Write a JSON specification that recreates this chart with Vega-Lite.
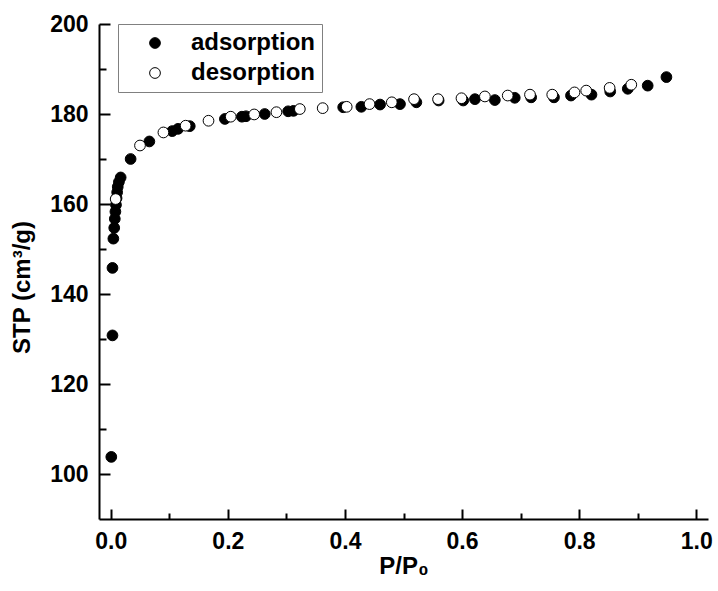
{
  "$schema": "https://vega.github.io/schema/vega-lite/v6.json",
  "autosize": "none",
  "padding": {"left": 99, "top": 24, "right": 10, "bottom": 72},
  "width": 609,
  "height": 495,
  "background": "white",
  "config": {"view": {"stroke": null}, "font": "Liberation Sans"},
  "data": {"values": [
    {"p": 0.001, "v": 103.8, "s": "adsorption"},
    {"p": 0.003, "v": 130.8, "s": "adsorption"},
    {"p": 0.003, "v": 145.8, "s": "adsorption"},
    {"p": 0.0045, "v": 152.3, "s": "adsorption"},
    {"p": 0.006, "v": 154.7, "s": "adsorption"},
    {"p": 0.007, "v": 156.7, "s": "adsorption"},
    {"p": 0.008, "v": 158.3, "s": "adsorption"},
    {"p": 0.009, "v": 159.8, "s": "adsorption"},
    {"p": 0.010, "v": 161.3, "s": "adsorption"},
    {"p": 0.011, "v": 162.6, "s": "adsorption"},
    {"p": 0.012, "v": 163.8, "s": "adsorption"},
    {"p": 0.014, "v": 164.9, "s": "adsorption"},
    {"p": 0.017, "v": 165.9, "s": "adsorption"},
    {"p": 0.034, "v": 170.0, "s": "adsorption"},
    {"p": 0.066, "v": 173.9, "s": "adsorption"},
    {"p": 0.105, "v": 176.2, "s": "adsorption"},
    {"p": 0.115, "v": 176.7, "s": "adsorption"},
    {"p": 0.135, "v": 177.3, "s": "adsorption"},
    {"p": 0.195, "v": 178.9, "s": "adsorption"},
    {"p": 0.224, "v": 179.4, "s": "adsorption"},
    {"p": 0.231, "v": 179.5, "s": "adsorption"},
    {"p": 0.263, "v": 180.0, "s": "adsorption"},
    {"p": 0.303, "v": 180.6, "s": "adsorption"},
    {"p": 0.312, "v": 180.7, "s": "adsorption"},
    {"p": 0.397, "v": 181.5, "s": "adsorption"},
    {"p": 0.428, "v": 181.6, "s": "adsorption"},
    {"p": 0.46, "v": 182.1, "s": "adsorption"},
    {"p": 0.494, "v": 182.2, "s": "adsorption"},
    {"p": 0.522, "v": 182.6, "s": "adsorption"},
    {"p": 0.56, "v": 183.0, "s": "adsorption"},
    {"p": 0.602, "v": 183.0, "s": "adsorption"},
    {"p": 0.622, "v": 183.3, "s": "adsorption"},
    {"p": 0.656, "v": 183.1, "s": "adsorption"},
    {"p": 0.69, "v": 183.6, "s": "adsorption"},
    {"p": 0.718, "v": 183.7, "s": "adsorption"},
    {"p": 0.757, "v": 183.7, "s": "adsorption"},
    {"p": 0.786, "v": 184.1, "s": "adsorption"},
    {"p": 0.821, "v": 184.3, "s": "adsorption"},
    {"p": 0.853, "v": 185.0, "s": "adsorption"},
    {"p": 0.883, "v": 185.6, "s": "adsorption"},
    {"p": 0.917, "v": 186.3, "s": "adsorption"},
    {"p": 0.949, "v": 188.2, "s": "adsorption"},
    {"p": 0.0085, "v": 161.1, "s": "desorption"},
    {"p": 0.050, "v": 173.0, "s": "desorption"},
    {"p": 0.090, "v": 175.9, "s": "desorption"},
    {"p": 0.128, "v": 177.4, "s": "desorption"},
    {"p": 0.167, "v": 178.5, "s": "desorption"},
    {"p": 0.205, "v": 179.4, "s": "desorption"},
    {"p": 0.245, "v": 179.9, "s": "desorption"},
    {"p": 0.283, "v": 180.4, "s": "desorption"},
    {"p": 0.323, "v": 181.1, "s": "desorption"},
    {"p": 0.362, "v": 181.3, "s": "desorption"},
    {"p": 0.403, "v": 181.6, "s": "desorption"},
    {"p": 0.442, "v": 182.2, "s": "desorption"},
    {"p": 0.48, "v": 182.6, "s": "desorption"},
    {"p": 0.518, "v": 183.3, "s": "desorption"},
    {"p": 0.559, "v": 183.3, "s": "desorption"},
    {"p": 0.599, "v": 183.5, "s": "desorption"},
    {"p": 0.639, "v": 183.9, "s": "desorption"},
    {"p": 0.678, "v": 184.1, "s": "desorption"},
    {"p": 0.716, "v": 184.3, "s": "desorption"},
    {"p": 0.754, "v": 184.3, "s": "desorption"},
    {"p": 0.792, "v": 184.8, "s": "desorption"},
    {"p": 0.812, "v": 185.2, "s": "desorption"},
    {"p": 0.852, "v": 185.8, "s": "desorption"},
    {"p": 0.889, "v": 186.5, "s": "desorption"}
  ]},
  "layer": [
    {
      "mark": {"type": "circle", "opacity": 0},
      "encoding": {
        "x": {"field": "p", "type": "quantitative", "scale": {"domain": [-0.02, 1.02], "nice": false, "zero": false},
          "axis": {"orient": "bottom", "values": [0.1, 0.3, 0.5, 0.7, 0.9], "labels": false, "domain": false, "grid": false, "title": null,
            "tickSize": -6, "tickWidth": 2, "tickColor": "black"}},
        "y": {"field": "v", "type": "quantitative", "scale": {"domain": [90, 200], "nice": false, "zero": false},
          "axis": {"orient": "left", "values": [110, 130, 150, 170, 190], "labels": false, "domain": false, "grid": false, "title": null,
            "tickSize": -7, "tickWidth": 2, "tickColor": "black"}}
      }
    },
    {
      "mark": {"type": "circle", "size": 115, "stroke": "black", "strokeWidth": 1, "opacity": 1},
      "encoding": {
        "x": {"field": "p", "type": "quantitative", "scale": {"domain": [-0.02, 1.02], "nice": false, "zero": false},
          "axis": {"orient": "bottom", "values": [0, 0.2, 0.4, 0.6, 0.8, 1.0], "format": ".1f", "grid": false,
            "tickSize": -10, "tickWidth": 2, "tickColor": "black", "domainWidth": 2, "domainColor": "black",
            "labelFontSize": 23, "labelFontWeight": "bold", "labelColor": "black", "labelPadding": 21, "labelFlush": false, "labelOverlap": false,
            "title": "P/P₀", "titleFontSize": 24, "titleFontWeight": "bold", "titleColor": "black", "titlePadding": 1}},
        "y": {"field": "v", "type": "quantitative", "scale": {"domain": [90, 200], "nice": false, "zero": false},
          "axis": {"orient": "left", "values": [100, 120, 140, 160, 180, 200], "grid": false,
            "tickSize": -11, "tickWidth": 2, "tickColor": "black", "domainWidth": 2, "domainColor": "black",
            "labelFontSize": 23, "labelFontWeight": "bold", "labelColor": "black", "labelPadding": 22, "labelFlush": false, "labelOverlap": false,
            "title": "STP (cm³/g)", "titleFontSize": 24, "titleFontWeight": "bold", "titleColor": "black",
            "titleX": -70, "titleY": 263, "titleAngle": -90, "titleAlign": "center", "titleBaseline": "alphabetic"}},
        "fill": {"field": "s", "type": "nominal",
          "scale": {"domain": ["adsorption", "desorption"], "range": ["black", "white"]},
          "legend": {"title": null, "orient": "none", "legendX": 19, "legendY": 0, "padding": 7,
            "strokeColor": "#808080", "fillColor": "white", "cornerRadius": 0,
            "labelFont": "Liberation Sans", "labelFontSize": 24, "labelFontWeight": "bold", "labelColor": "black",
            "symbolType": "circle", "symbolSize": 115, "symbolStrokeColor": "black", "symbolStrokeWidth": 1,
            "symbolOffset": 18, "labelOffset": 24, "rowPadding": 6}}
      }
    }
  ],
  "resolve": {"axis": {"x": "independent", "y": "independent"}}
}
